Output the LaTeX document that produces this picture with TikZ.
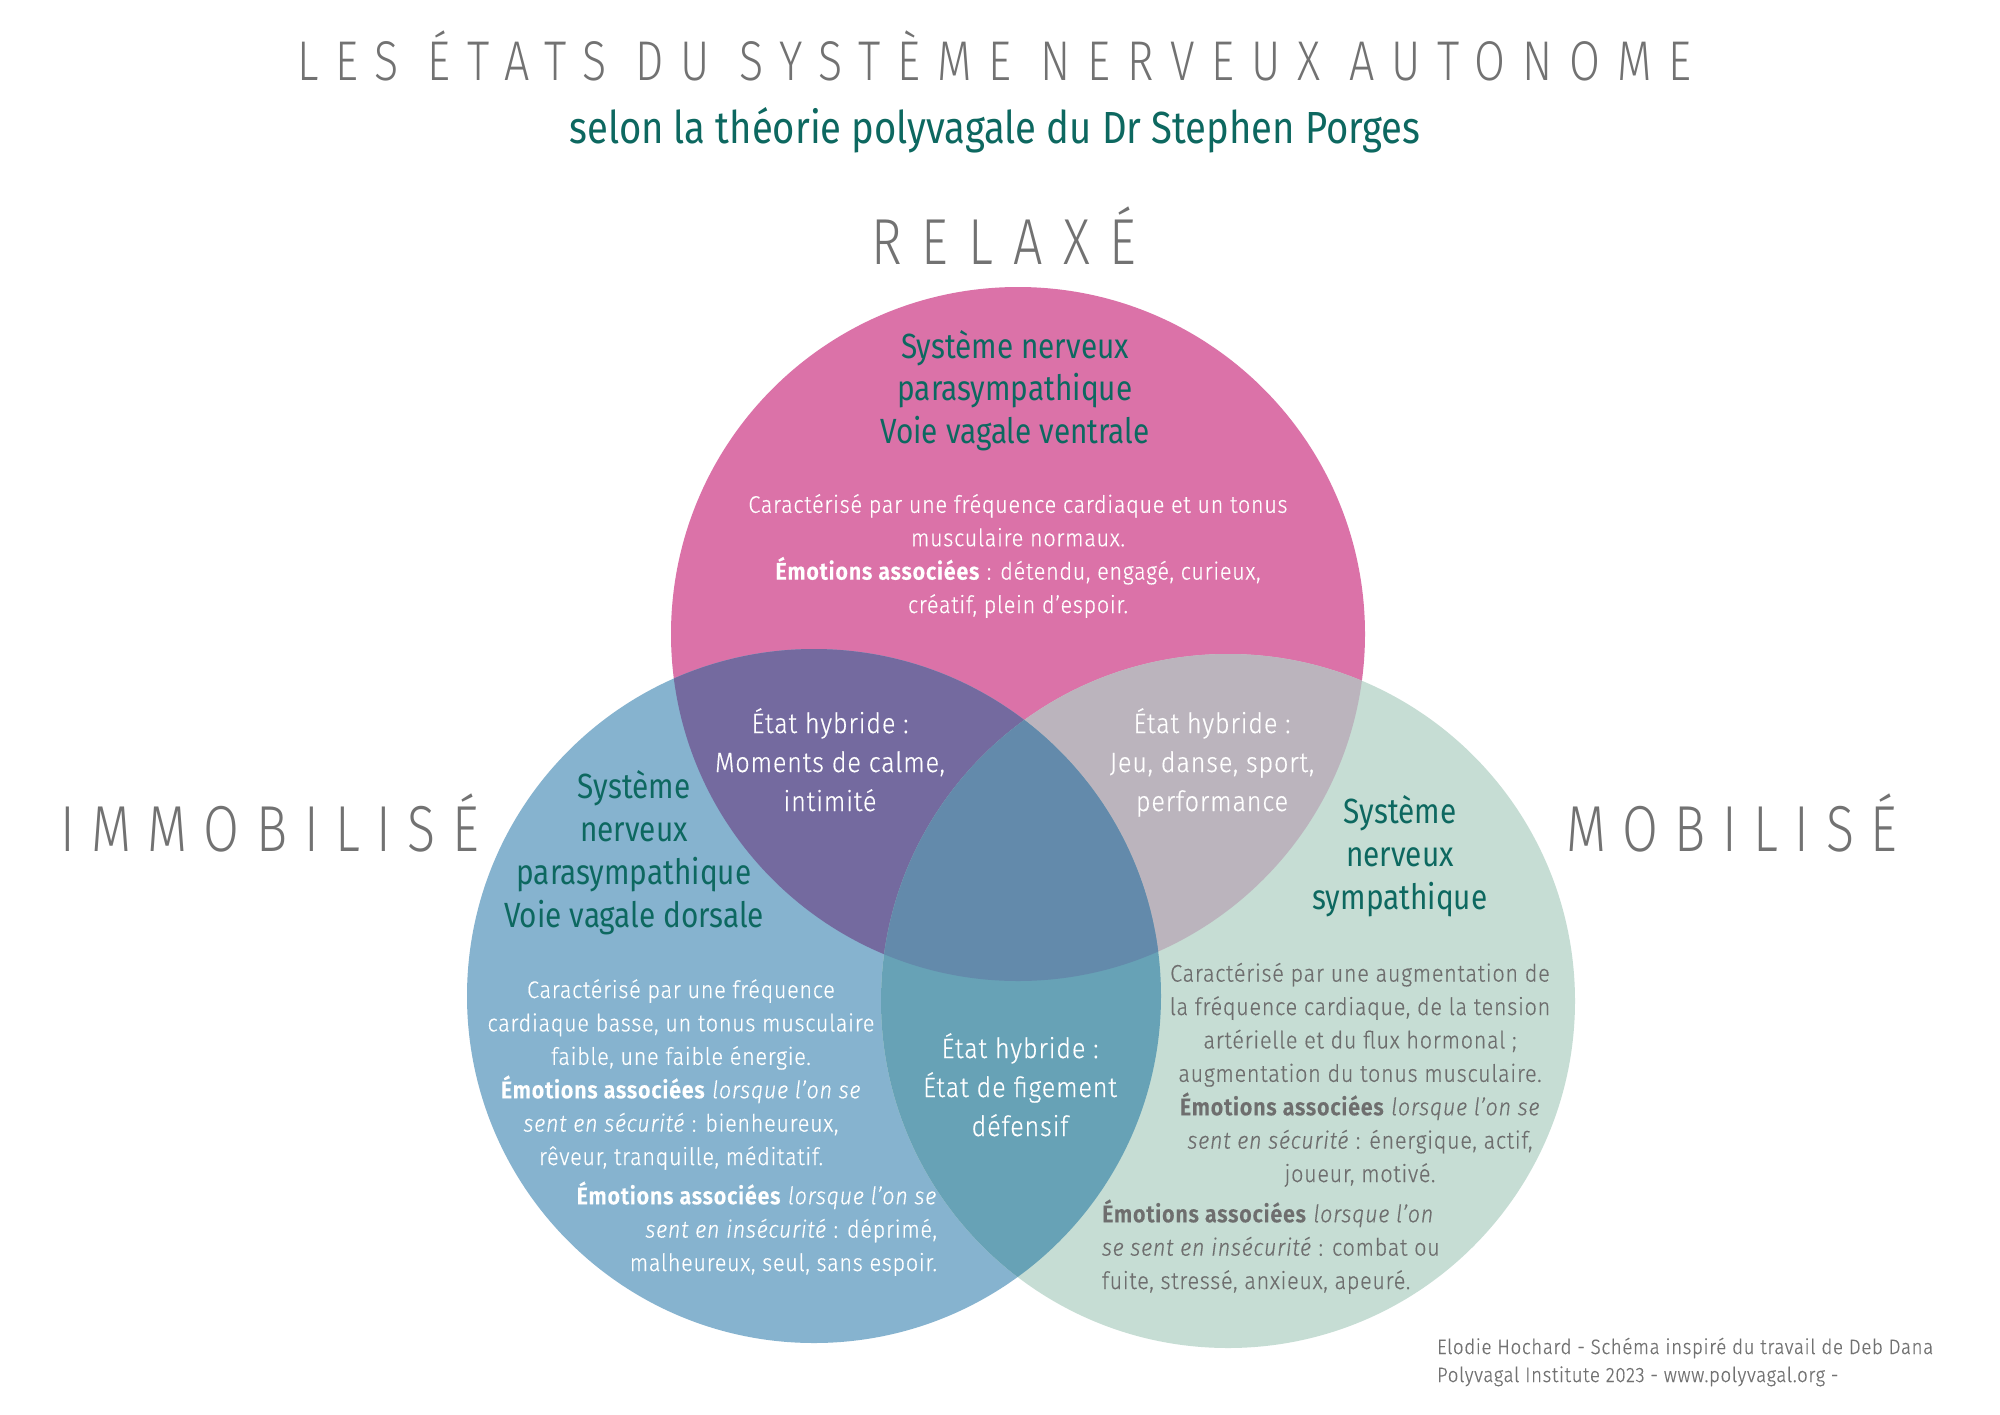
\documentclass[tikz,border=0pt]{standalone}
\usepackage{fontspec}
\newfontfamily\bodyfont{Fira Sans Light}[BoldFont={Fira Sans SemiBold}, ItalicFont={Fira Sans Light Italic}, FakeStretch=0.9, LetterSpace=3, FakeBold=0.5]
\newfontfamily\capsfont{Fira Sans Light}[FakeStretch=0.8, LetterSpace=30]
\newfontfamily\bigcapsfont{Fira Sans Light}[FakeStretch=0.8, LetterSpace=25.5]
\newfontfamily\relaxfont{Fira Sans Light}[FakeStretch=0.8, LetterSpace=31]
\newfontfamily\handfont{Fira Sans}[FakeStretch=0.85]
\definecolor{pinkc}{HTML}{DB72A8}
\definecolor{bluec}{HTML}{86B3CF}
\definecolor{greenc}{HTML}{C6DDD4}
\definecolor{pbc}{HTML}{746A9F}
\definecolor{pgc}{HTML}{BBB4BD}
\definecolor{bgc}{HTML}{67A2B6}
\definecolor{allc}{HTML}{638AAB}
\definecolor{tealtext}{HTML}{0D6860}
\definecolor{graytext}{HTML}{727272}
\definecolor{greenbody}{HTML}{6E6E6E}
\tikzset{
  every node/.style={inner sep=0pt, outer sep=0pt},
  bigcaps/.style={font=\bigcapsfont\fontsize{65}{70}\selectfont, text=graytext, anchor=base west},
  titlecaps/.style={font=\capsfont\fontsize{56}{60}\selectfont, text=graytext, anchor=base west},
  hand/.style={font=\handfont\fontsize{35}{42.5}\selectfont, text=tealtext, align=center, anchor=base},
  body/.style={font=\bodyfont\fontsize{24}{33.4}\selectfont, text=white, align=center, anchor=base},
  hybrid/.style={font=\bodyfont\fontsize{28}{39}\selectfont, text=white, align=center, anchor=base},
  foot/.style={font=\bodyfont\fontsize{20.8}{28}\selectfont, text=graytext, align=left, anchor=base west},
}
\def\pinkC{(1018,634) circle[radius=347pt]}
\def\blueC{(814,996) circle[radius=347pt]}
\def\greenC{(1228,1001) circle[radius=347pt]}
\begin{document}
\begin{tikzpicture}[x=1pt,y=-1pt]
\useasboundingbox[fill=white] (0,0) rectangle (2000,1414);
% circles
\fill[pinkc] \pinkC;
\fill[bluec] \blueC;
\fill[greenc] \greenC;
\begin{scope} \clip \pinkC; \fill[pbc] \blueC; \end{scope}
\begin{scope} \clip \pinkC; \fill[pgc] \greenC; \end{scope}
\begin{scope} \clip \blueC; \fill[bgc] \greenC; \end{scope}
\begin{scope} \clip \pinkC; \clip \blueC; \fill[allc] \greenC; \end{scope}
% titles
\node[titlecaps] (title) at (297,80) {LES ÉTATS DU SYSTÈME NERVEUX AUTONOME};
\node[hand, font=\handfont\fontsize{45}{50}\selectfont] (subtitle) at (995,143) {selon la théorie polyvagale du Dr Stephen Porges};
\node[bigcaps, font=\relaxfont\fontsize{65}{70}\selectfont] (relaxe) at (871,264) {RELAXÉ};
\node[bigcaps] (immo) at (60,851) {IMMOBILISÉ};
\node[bigcaps] (mobi) at (1566,851) {MOBILISÉ};
% pink circle
\node[hand] (pinktitle) at (1015,443) {Système nerveux\\parasympathique\\Voie vagale ventrale};
\node[body] (pinkbody) at (1018,613) {Caractérisé par une fréquence cardiaque et un tonus\\musculaire normaux.\\\textbf{Émotions associées} : détendu, engagé, curieux,\\créatif, plein d’espoir.};
% hybrids
\node[hybrid] (hybpb) at (830,811) {État hybride :\\Moments de calme,\\intimité};
\node[hybrid] (hybpg) at (1212,811) {État hybride :\\Jeu, danse, sport,\\performance};
\node[hybrid] (hybbg) at (1020,1136) {État hybride :\\État de figement\\défensif};
% blue circle
\node[hand, font=\handfont\fontsize{35}{43}\selectfont] (bluetitle) at (634,927) {Système\\nerveux\\parasympathique\\Voie vagale dorsale};
\node[body] (bluebody) at (681,1165) {Caractérisé par une fréquence\\cardiaque basse, un tonus musculaire\\faible, une faible énergie.\\\textbf{Émotions associées} \textit{lorsque l’on se}\\\textit{sent en sécurité} : bienheureux,\\rêveur, tranquille, méditatif.};
\node[body, align=right, anchor=base east] (bluebody2) at (937,1271) {\textbf{Émotions associées} \textit{lorsque l’on se}\\\textit{sent en insécurité} : déprimé,\\malheureux, seul, sans espoir.};
% green circle
\node[hand, font=\handfont\fontsize{35}{43}\selectfont] (greentitle) at (1400,909) {Système\\nerveux\\sympathique};
\node[body, text=greenbody] (greenbody) at (1360,1182) {Caractérisé par une augmentation de\\la fréquence cardiaque, de la tension\\artérielle et du flux hormonal ;\\augmentation du tonus musculaire.\\\textbf{Émotions associées} \textit{lorsque l’on se}\\\textit{sent en sécurité} : énergique, actif,\\joueur, motivé.};
\node[body, text=greenbody, align=left, anchor=base west] (greenbody2) at (1102,1289) {\textbf{Émotions associées} \textit{lorsque l’on}\\\textit{se sent en insécurité} : combat ou\\fuite, stressé, anxieux, apeuré.};
% footer
\node[foot] (footer) at (1437,1382) {Elodie Hochard - Schéma inspiré du travail de Deb Dana\\Polyvagal Institute 2023 - www.polyvagal.org -};
\end{tikzpicture}
\end{document}
